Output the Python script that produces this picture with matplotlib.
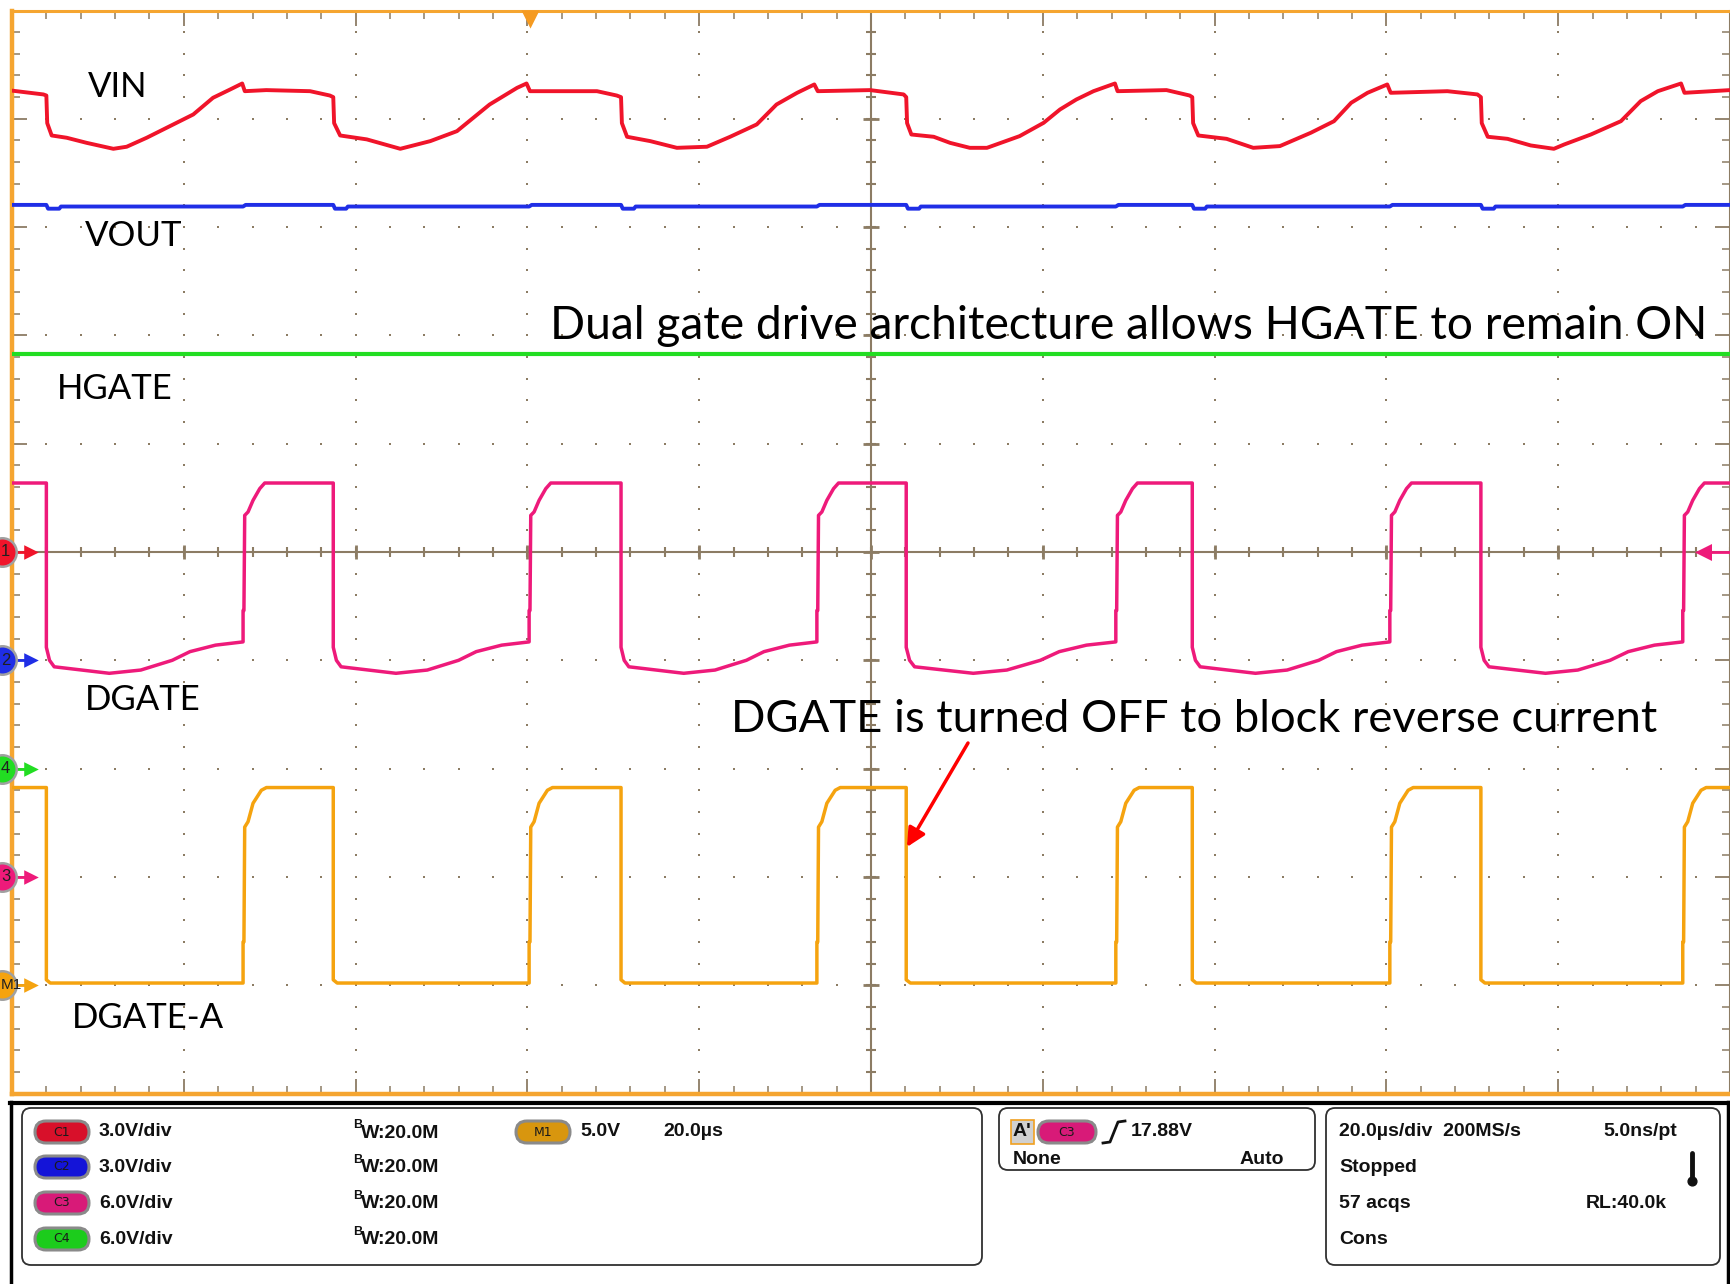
import numpy as np
import matplotlib
matplotlib.use("Agg")
import matplotlib.pyplot as plt
from matplotlib.patches import FancyBboxPatch, Rectangle
from matplotlib.ticker import MultipleLocator

# --- scope capture: 20 us/div, 10 x 10 divisions ---
FALL_US = [4.0, 37.4, 70.9, 104.1, 137.4, 171.0]   # DGATE / DGATE-A falling edges
RISE_US = [26.9, 60.2, 93.7, 128.5, 160.4, 194.5]  # DGATE / DGATE-A rising edges

# VIN (C1) (time in us, position in divisions)
VIN_T = [0.0, 3.65, 4.0, 4.1, 4.62, 6.37, 8.69, 11.8, 13.35, 15.68, 18.78, 21.1, 23.4, 25.4, 26.8, 27.1,
         29.6, 34.7, 37.0, 37.4, 37.5, 38.2, 41.3, 45.2, 48.7, 51.8, 55.6, 58.8, 59.9, 60.3,
         68.1, 70.4, 70.9, 71.0, 71.6, 74.3, 77.4, 80.9, 83.6, 86.7, 89.0, 91.4, 93.4, 93.8,
         99.9, 103.8, 104.1, 104.2, 104.7, 107.3, 109.2, 111.5, 113.5, 117.3, 120.1, 122.0, 123.9, 125.9, 128.4, 128.7,
         134.4, 137.1, 137.4, 137.5, 138.1, 141.4, 144.5, 147.6, 151.2, 153.9, 155.9, 157.8, 160.1, 160.5,
         167.1, 170.6, 171.0, 171.1, 171.8, 174.1, 176.8, 179.5, 180.7, 183.8, 187.3, 189.6, 191.6, 194.3, 194.7, 200.0]
VIN_V = [4.26, 4.225, 4.215, 3.96, 3.846, 3.825, 3.778, 3.723, 3.742, 3.825, 3.948, 4.04, 4.194, 4.271, 4.326, 4.255,
         4.265, 4.255, 4.215, 4.20, 3.96, 3.846, 3.81, 3.723, 3.794, 3.886, 4.132, 4.286, 4.326, 4.255,
         4.255, 4.215, 4.20, 3.96, 3.834, 3.794, 3.732, 3.742, 3.834, 3.948, 4.132, 4.24, 4.317, 4.255,
         4.265, 4.225, 4.20, 3.96, 3.855, 3.834, 3.778, 3.732, 3.732, 3.84, 3.963, 4.086, 4.178, 4.255, 4.326, 4.255,
         4.265, 4.215, 4.20, 3.96, 3.846, 3.815, 3.732, 3.748, 3.871, 3.978, 4.148, 4.24, 4.317, 4.24,
         4.255, 4.225, 4.20, 3.96, 3.834, 3.815, 3.754, 3.723, 3.763, 3.855, 3.978, 4.163, 4.255, 4.326, 4.24, 4.265]

# VOUT (C2) and HGATE (C4) levels
VOUT_HI, VOUT_LO, VOUT_DIP = 3.205, 3.19, 3.17
HGATE_LEVEL = 1.83

# DGATE (C3): high level, low-phase profile (fraction of low time), rising-edge profile
DG_HIGH = 0.637
DG_LOW_FRAC = [0.0, 0.016, 0.04, 0.18, 0.32, 0.48, 0.64, 0.73, 0.86, 1.0]
DG_LOW_V = [-0.88, -1.00, -1.06, -1.09, -1.12, -1.09, -1.00, -0.92, -0.86, -0.83]
DG_RISE_DT = [0.0, 0.1, 0.19, 0.58, 1.16, 1.94, 2.52]
DG_RISE_V = [-0.54, -0.54, 0.338, 0.37, 0.477, 0.585, 0.637]

# DGATE-A (M1)
DA_HIGH = -2.175
DA_LOW_FRAC = [0.0, 0.02, 1.0]
DA_LOW_V = [-3.95, -3.98, -3.98]
DA_RISE_DT = [0.0, 0.1, 0.19, 0.58, 1.16, 2.13, 2.72]
DA_RISE_V = [-3.6, -3.6, -2.54, -2.49, -2.32, -2.2, -2.175]

# channel reference markers on the left
REF_LABELS = ["1", "2", "4", "3", "M1"]
REF_LEVELS = [0, -1, -2, -3, -4]

C_VIN, C_VOUT, C_HG, C_DG, C_DA = "#f0142a", "#1f2ee6", "#22dd22", "#ee1a7a", "#f5a30f"
REF_COLORS = [C_VIN, C_VOUT, C_HG, C_DG, C_DA]
GRID_C = "#8c7c64"
ORANGE = "#f5a530"

W, H = 1731, 1284


def gate_trace(high, low_frac, low_v, rise_dt, rise_v):
    t, v = [0.0], [high]
    for tf, tr in zip(FALL_US, RISE_US):
        t.append(tf); v.append(high)
        for f, lv in zip(low_frac, low_v):
            t.append(tf + f * (tr - tf)); v.append(lv)
        for dt, rv in zip(rise_dt, rise_v):
            t.append(tr + dt); v.append(rv)
    t.append(200.0); v.append(high)
    return t, v


def vout_trace():
    t, v = [0.0], [VOUT_HI]
    for tf, tr in zip(FALL_US, RISE_US):
        t += [tf, tf + 0.2, tf + 1.5, tf + 1.7, tr, tr + 0.3]
        v += [VOUT_HI, VOUT_DIP, VOUT_DIP, VOUT_LO, VOUT_LO, VOUT_HI]
    t.append(200.0); v.append(VOUT_HI)
    return t, v


fig = plt.figure(figsize=(W / 100, H / 100), dpi=100)
fig.patch.set_facecolor("white")

# panel below the graticule, laid out in pixels
pan = fig.add_axes([0, 0, 1, 1], zorder=0)
pan.set_xlim(0, W)
pan.set_ylim(H, 0)
pan.axis("off")

# graticule area
left, right, top, bot = 12, 1730, 10.5, 1093.5
ax = fig.add_axes([left / W, (H - bot) / H, (right - left) / W, (bot - top) / H], zorder=2)
ax.set_xlim(0, 200)
ax.set_ylim(-5, 5)
ax.set_facecolor("white")

px_t = lambda px: (px - left) / (right - left) * 200.0
py_d = lambda py: (552.0 - py) / 108.3

# dotted grid
gx = np.arange(0, 200.01, 4)
gy = np.arange(-5, 5.01, 0.2)
for k in range(1, 10):
    if k == 5:
        continue
    ax.scatter(np.full(gy.size, 20 * k), gy, s=3, marker="s", color=GRID_C, lw=0, zorder=1)
for k in range(-4, 5):
    if k == 0:
        continue
    ax.scatter(gx, np.full(gx.size, k), s=3, marker="s", color=GRID_C, lw=0, zorder=1)

# centre cross with ticks
ax.axvline(100, color=GRID_C, lw=1.5, zorder=1)
ax.axhline(0, color=GRID_C, lw=1.5, zorder=1)
ax.scatter(gx, np.zeros(gx.size), marker="|", s=45, color=GRID_C, lw=1.5, zorder=1)
ax.scatter(gx[::5], np.zeros(gx[::5].size), marker="|", s=110, color=GRID_C, lw=2, zorder=1)
ax.scatter(np.full(gy.size, 100), gy, marker="_", s=55, color=GRID_C, lw=1.5, zorder=1)
ax.scatter(np.full(gy[::5].size, 100), gy[::5], marker="_", s=120, color=GRID_C, lw=2, zorder=1)

ax.xaxis.set_major_locator(MultipleLocator(20))
ax.xaxis.set_minor_locator(MultipleLocator(4))
ax.yaxis.set_major_locator(MultipleLocator(1))
ax.yaxis.set_minor_locator(MultipleLocator(0.2))
ax.tick_params(which="both", direction="in", top=True, right=True, color=GRID_C,
               labelbottom=False, labelleft=False)
ax.tick_params(which="major", length=11, width=1.3)
ax.tick_params(which="minor", length=6, width=1.1)
for side in ["left", "bottom"]:
    ax.spines[side].set_color(ORANGE)
    ax.spines[side].set_linewidth(3.2)
ax.spines["top"].set_color(ORANGE)
ax.spines["top"].set_linewidth(2.2)
ax.spines["right"].set_color(GRID_C)
ax.spines["right"].set_linewidth(1.5)

# traces
ax.plot(VIN_T, VIN_V, color=C_VIN, lw=2.8, zorder=5)
vt, vv = vout_trace()
ax.plot(vt, vv, color=C_VOUT, lw=2.8, zorder=5)
ax.plot([0, 200], [HGATE_LEVEL, HGATE_LEVEL], color=C_HG, lw=3.0, zorder=5)
dt, dv = gate_trace(DG_HIGH, DG_LOW_FRAC, DG_LOW_V, DG_RISE_DT, DG_RISE_V)
ax.plot(dt, dv, color=C_DG, lw=2.5, zorder=5)
at, av = gate_trace(DA_HIGH, DA_LOW_FRAC, DA_LOW_V, DA_RISE_DT, DA_RISE_V)
ax.plot(at, av, color=C_DA, lw=2.5, zorder=5)

# trace labels and notes
lab = dict(family="Lato", color="black", va="center", ha="left", zorder=8)
ax.text(px_t(88), py_d(87), "VIN", fontsize=25, **lab)
ax.text(px_t(85), py_d(236), "VOUT", fontsize=25, **lab)
ax.text(px_t(57), py_d(389), "HGATE", fontsize=25, **lab)
ax.text(px_t(85), py_d(700), "DGATE", fontsize=25, **lab)
ax.text(px_t(72), py_d(1018), "DGATE-A", fontsize=25, **lab)
ax.text(px_t(550), py_d(326), "Dual gate drive architecture allows HGATE to remain ON", fontsize=33.2, **lab)
ax.text(px_t(731), py_d(719), "DGATE is turned OFF to block reverse current", fontsize=32.7, **lab)
ax.annotate("", xy=(px_t(907), py_d(847)), xytext=(px_t(968), py_d(743)),
            arrowprops=dict(arrowstyle="-|>", color="red", lw=2.5, mutation_scale=28,
                            shrinkA=0, shrinkB=0), zorder=9)

# reference markers at the left edge
for name, lvl, col in zip(REF_LABELS, REF_LEVELS, REF_COLORS):
    ax.plot([px_t(10), px_t(32)], [lvl, lvl], color=col, lw=2, clip_on=False, zorder=6)
    ax.scatter([px_t(31)], [lvl], marker=">", s=110, color=col, lw=0, clip_on=False, zorder=6)
    ax.scatter([px_t(2)], [lvl], marker="o", s=420, color=col, edgecolor="#a0a0a0", lw=1.8,
               clip_on=False, zorder=7)
    ax.text(px_t(1), lvl, name, ha="left", va="center", fontsize=11 if len(name) > 1 else 12,
            color="#202020", family="Liberation Sans", clip_on=False, zorder=8)

# trigger level (right) and trigger position (top)
ax.plot([px_t(1700), px_t(1731)], [0, 0], color=C_DG, lw=2, clip_on=False, zorder=6)
ax.scatter([px_t(1703)], [0], marker="<", s=150, color=C_DG, lw=0, clip_on=False, zorder=6)
ax.scatter([px_t(530)], [py_d(19)], marker="v", s=170, color="#f59a20", lw=0, clip_on=False, zorder=6)

# ---- readout panel ----
pan.plot([10, W], [1103, 1103], color="black", lw=3)
pan.plot([11, 11], [1102, H], color="black", lw=2.5)
pan.plot([1728, 1728], [1102, H], color="black", lw=2.5)
for x0, y0, x1, y1 in [(22, 1108, 982, 1265), (999, 1108, 1315, 1170), (1326, 1108, 1720, 1265)]:
    pan.add_patch(FancyBboxPatch((x0, y0), x1 - x0, y1 - y0, boxstyle="round,pad=0,rounding_size=9",
                                 fc="white", ec="#303030", lw=1.3))

txt = dict(family="Liberation Sans", fontweight="bold", fontsize=14, color="#111111", va="center")


def badge(xc, yc, name, col, w=54):
    pan.add_patch(FancyBboxPatch((xc - w / 2, yc - 11), w, 22, boxstyle="round,pad=0,rounding_size=11",
                                 fc=col, ec="#8a8a8a", lw=2.2))
    pan.text(xc, yc, name, ha="center", va="center", fontsize=9, color="#1a1a1a",
             family="Liberation Sans Narrow")


ch_names = ["C1", "C2", "C3", "C4"]
ch_colors = ["#d8102a", "#1414d8", "#d81a78", "#1ccc1c"]
ch_scale = ["3.0V/div", "3.0V/div", "6.0V/div", "6.0V/div"]
rows_y = [1132, 1167, 1203, 1239]
for nm, col, sc, ry in zip(ch_names, ch_colors, ch_scale, rows_y):
    badge(62, ry, nm, col)
    pan.text(99, ry, sc, **txt)
    pan.text(353, ry - 7, "B", fontsize=9, family="Liberation Sans", fontweight="bold",
             color="#111111", va="center")
    pan.text(361, ry + 1, "W:20.0M", **txt)

badge(543, 1132, "M1", "#d8960e")
pan.text(580, 1132, "5.0V", **txt)
pan.text(663, 1132, "20.0\u00b5s", **txt)

pan.add_patch(Rectangle((1011, 1120), 23, 24, fc="#d0d0d0", ec="#f0a020", lw=1.2))
pan.text(1022, 1131, "A'", ha="center", **txt)
badge(1067, 1132, "C3", "#d81a78", w=58)
pan.plot([1103, 1110, 1118, 1125], [1143, 1142, 1122, 1121], color="#111111", lw=2)
pan.text(1131, 1132, "17.88V", **txt)
pan.text(1013, 1160, "None", **txt)
pan.text(1284, 1160, "Auto", ha="right", **txt)

pan.text(1339, 1131, "20.0\u00b5s/div  200MS/s", **txt)
pan.text(1677, 1131, "5.0ns/pt", ha="right", **txt)
pan.text(1339, 1167, "Stopped", **txt)
pan.plot([1692, 1692], [1153, 1180], color="#111111", lw=3.5, solid_capstyle="round")
pan.scatter([1692], [1181], s=40, color="#111111", zorder=3)
pan.text(1339, 1203, "57 acqs", **txt)
pan.text(1667, 1203, "RL:40.0k", ha="right", **txt)
pan.text(1339, 1239, "Cons", **txt)

fig.savefig("out.png", dpi=100, facecolor="white")
